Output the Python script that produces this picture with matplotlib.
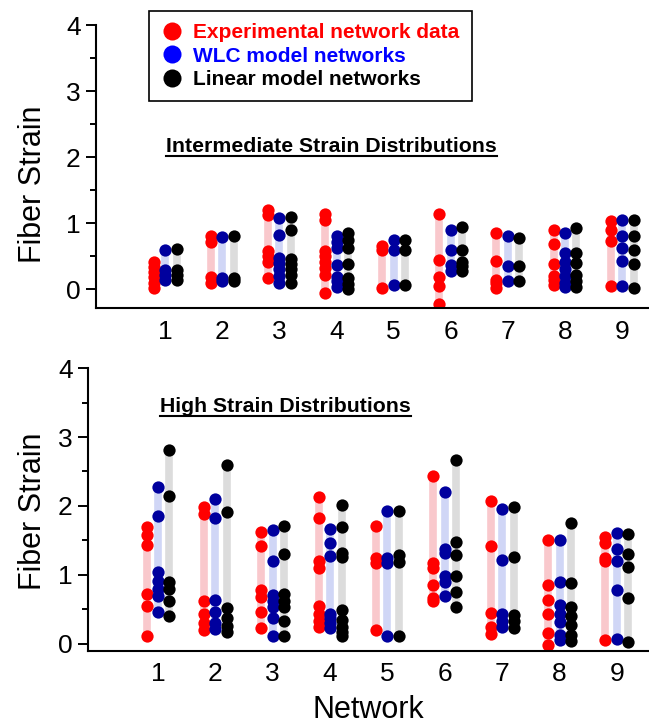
import numpy as np
import matplotlib.pyplot as plt
from matplotlib.lines import Line2D

plt.rcParams['font.family'] = ['Liberation Sans', 'DejaVu Sans']

networks = [1, 2, 3, 4, 5, 6, 7, 8, 9]

# intermediate strain distributions (top panel)
inter_exp = [
    [0.02, 0.1, 0.18, 0.26, 0.34, 0.42],
    [0.1, 0.18, 0.72, 0.8],
    [0.17, 0.42, 0.5, 0.58, 1.13, 1.2],
    [-0.05, 0.22, 0.32, 0.42, 0.5, 0.58, 1.05, 1.14],
    [0.02, 0.6, 0.66],
    [-0.22, 0.05, 0.19, 0.45, 1.14],
    [0.02, 0.1, 0.14, 0.43, 0.85],
    [0.07, 0.14, 0.2, 0.39, 0.68, 0.9],
    [0.05, 0.73, 0.9, 1.03],
]
inter_wlc = [
    [0.14, 0.22, 0.29, 0.6],
    [0.12, 0.17, 0.79],
    [0.1, 0.2, 0.3, 0.4, 0.48, 0.83, 1.08],
    [0.04, 0.12, 0.19, 0.37, 0.63, 0.72, 0.8],
    [0.07, 0.6, 0.75],
    [0.27, 0.37, 0.6, 0.9],
    [0.12, 0.36, 0.8],
    [0.03, 0.1, 0.2, 0.3, 0.42, 0.55, 0.86],
    [0.05, 0.43, 0.62, 0.8, 1.05],
]
inter_lin = [
    [0.14, 0.22, 0.29, 0.61],
    [0.12, 0.17, 0.8],
    [0.1, 0.22, 0.3, 0.38, 0.46, 0.9, 1.1],
    [0.0, 0.08, 0.17, 0.38, 0.63, 0.75, 0.85],
    [0.07, 0.6, 0.75],
    [0.27, 0.35, 0.41, 0.6, 0.94],
    [0.12, 0.35, 0.78],
    [0.03, 0.12, 0.22, 0.4, 0.55, 0.93],
    [0.02, 0.38, 0.6, 0.8, 1.05],
]

# high strain distributions (bottom panel)
high_exp = [
    [0.12, 0.55, 0.73, 1.43, 1.58, 1.7],
    [0.2, 0.3, 0.43, 0.62, 1.88, 1.98],
    [0.23, 0.47, 0.68, 0.78, 1.42, 1.63],
    [0.24, 0.33, 0.44, 0.55, 1.1, 1.2, 1.83, 2.13],
    [0.2, 1.17, 1.24, 1.71],
    [0.63, 0.67, 0.86, 1.1, 1.17, 2.44],
    [0.14, 0.24, 0.45, 1.42, 2.07],
    [-0.02, 0.16, 0.43, 0.64, 0.85, 1.5],
    [0.06, 1.2, 1.25, 1.47, 1.55],
]
high_wlc = [
    [0.47, 0.7, 0.8, 0.92, 1.05, 1.86, 2.28],
    [0.22, 0.3, 0.47, 0.64, 1.82, 2.1],
    [0.12, 0.37, 0.54, 0.63, 0.71, 1.2, 1.65],
    [0.23, 0.3, 0.37, 0.44, 1.27, 1.47, 1.66],
    [0.12, 1.18, 1.24, 1.93],
    [0.69, 0.9, 0.98, 1.32, 1.37, 2.21],
    [0.25, 0.34, 0.44, 1.21, 1.96],
    [0.06, 0.13, 0.32, 0.44, 0.56, 0.9, 1.5],
    [0.07, 0.78, 1.2, 1.37, 1.61],
]
high_lin = [
    [0.41, 0.62, 0.8, 0.9, 2.14, 2.81],
    [0.18, 0.26, 0.38, 0.52, 1.92, 2.6],
    [0.11, 0.33, 0.53, 0.62, 0.72, 1.31, 1.71],
    [0.12, 0.18, 0.25, 0.35, 0.49, 1.26, 1.32, 1.69, 2.02],
    [0.11, 1.19, 1.29, 1.93],
    [0.54, 0.76, 0.99, 1.29, 1.48, 2.66],
    [0.23, 0.33, 0.42, 1.26, 1.99],
    [0.05, 0.13, 0.28, 0.4, 0.54, 0.89, 1.76],
    [0.03, 0.67, 1.11, 1.31, 1.59],
]

legend_labels = ['Experimental network data', 'WLC model networks', 'Linear model networks']

series_style = [
    # offset, dot colour, band colour
    (-0.2, '#ff0000', '#f9c8cc'),
    (0.0, '#00009e', '#d0d6f6'),
    (0.2, '#000000', '#dcdcdc'),
]


def draw_panel(ax, groups, ylo):
    for vals_list, (off, dot, band) in zip(groups, series_style):
        for n, vals in zip(networks, vals_list):
            x = n + off
            ax.plot([x, x], [min(vals), max(vals)], color=band, lw=5.5,
                    solid_capstyle='butt', zorder=1)
            ax.scatter([x] * len(vals), vals, s=78, color=dot, linewidths=0, zorder=2)
    ax.set_ylim(ylo, 4)
    ax.set_yticks([0, 1, 2, 3, 4])
    ax.set_yticks([0.5, 1.5, 2.5, 3.5], minor=True)
    ax.set_xticks(networks)
    ax.spines['top'].set_visible(False)
    ax.spines['right'].set_visible(False)
    ax.spines['left'].set_linewidth(1.5)
    ax.spines['bottom'].set_linewidth(1.5)
    ax.tick_params(axis='y', which='major', length=7, width=1.4, labelsize=19, pad=4)
    ax.tick_params(axis='y', which='minor', length=4, width=1.4)
    ax.tick_params(axis='x', length=0, labelsize=19, pad=8)


def underlined_title(fig, ax, text, x, y):
    t = fig.text(x, y, text, fontsize=15.3, fontweight='bold', ha='left', va='center')
    fig.canvas.draw()
    bb = t.get_window_extent().transformed(fig.transFigure.inverted())
    fig.add_artist(Line2D([bb.x0, bb.x1], [bb.y0 + 0.001, bb.y0 + 0.001],
                          color='black', lw=1.5, transform=fig.transFigure))


fig = plt.figure(figsize=(6.49, 7.24), dpi=100)
ax1 = fig.add_axes([0.148, 0.574, 0.852, 0.391])
ax2 = fig.add_axes([0.1356, 0.101, 0.8644, 0.3907])

draw_panel(ax1, [inter_exp, inter_wlc, inter_lin], -0.29)
ax1.set_xlim(-0.21, 9.47)
draw_panel(ax2, [high_exp, high_wlc, high_lin], -0.1)
ax2.set_xlim(-0.22, 9.56)

fig.text(0.051, 0.746, 'Fiber Strain', rotation=90, fontsize=22, ha='center', va='center')
fig.text(0.051, 0.294, 'Fiber Strain', rotation=90, fontsize=22, ha='center', va='center')
fig.text(0.567, 0.019, 'Network', fontsize=22, ha='center', va='center')

handles = [Line2D([], [], ls='none', marker='o', ms=13, mec='none', mfc=c)
           for c in ['#ff0000', '#0000ff', '#000000']]
leg = ax1.legend(handles, legend_labels, loc='upper left',
                 bbox_to_anchor=(149 / 649, 1 - 11 / 724), bbox_transform=fig.transFigure,
                 borderaxespad=0, frameon=True, fancybox=False, framealpha=1,
                 edgecolor='black', handlelength=1.0, handletextpad=0.5,
                 borderpad=0.6, labelspacing=0.2,
                 prop={'weight': 'bold', 'size': 15},
                 labelcolor=['#ff0000', '#0000ff', '#000000'])
leg.get_frame().set_linewidth(1.2)

underlined_title(fig, ax1, 'Intermediate Strain Distributions', 166 / 649, 1 - 147 / 724)
underlined_title(fig, ax2, 'High Strain Distributions', 160 / 649, 1 - 407 / 724)

fig.savefig('out.png', dpi=100)
